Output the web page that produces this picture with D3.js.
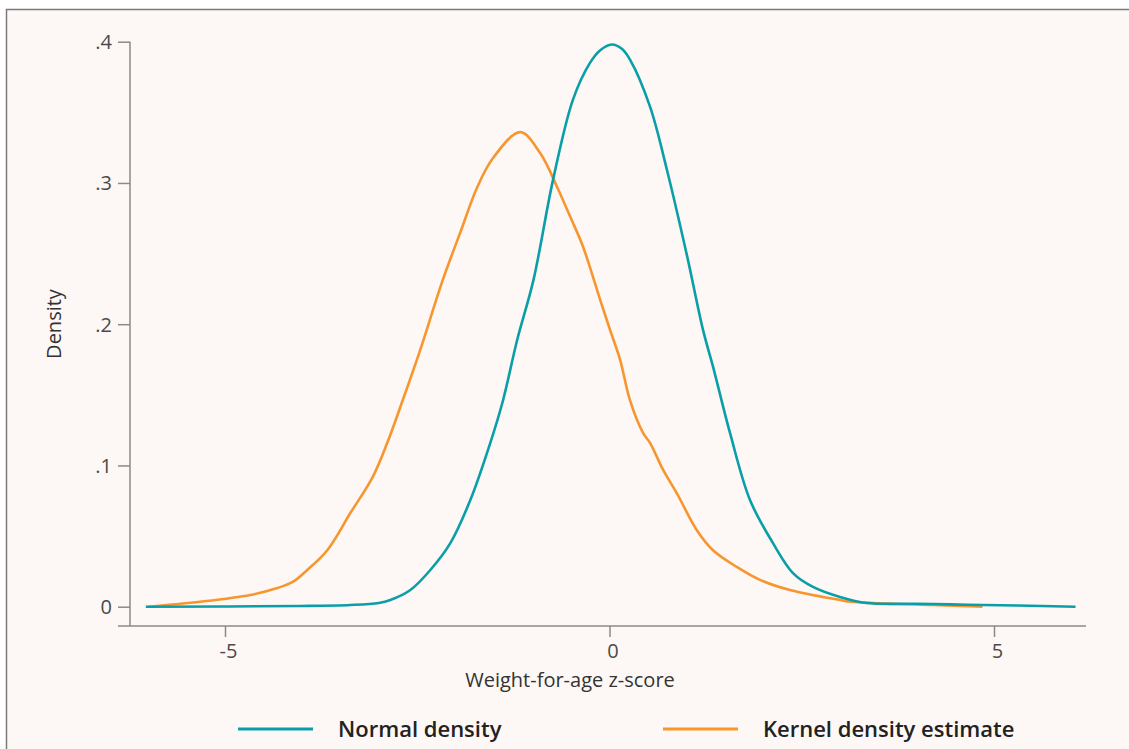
<!DOCTYPE html>
<html>
<head>
<meta charset="utf-8">
<script src="https://cdn.jsdelivr.net/npm/d3@7"></script>
<style>
  html, body { margin: 0; padding: 0; background: #ffffff; }
  svg { display: block; }
  text { font-family: "Open Sans", Lato, sans-serif; }
</style>
</head>
<body>
<svg id="chart" width="1129" height="749"></svg>
<script>
// ---- data ----
const normalX = [-6.03, -4.02, -3.37, -3.0, -2.85, -2.59, -2.33, -2.07, -1.81, -1.55, -1.385, -1.2, -0.99, -0.735, -0.475, -0.254, -0.12, 0.03, 0.16, 0.27, 0.527, 0.748, 1.01, 1.216, 1.346, 1.567, 1.827, 2.126, 2.386, 2.646, 2.997, 3.348, 4.0, 4.65, 5.3, 6.06];
const normalY = [0.0, 0.0005, 0.0012, 0.0026, 0.0047, 0.0118, 0.026, 0.045, 0.0755, 0.116, 0.146, 0.189, 0.231, 0.302, 0.359, 0.385, 0.394, 0.398, 0.395, 0.387, 0.354, 0.309, 0.248, 0.196, 0.170, 0.123, 0.0755, 0.045, 0.0238, 0.014, 0.0069, 0.0026, 0.0021, 0.0014, 0.0008, 0.0];

const kernelX = [-6.0, -5.32, -4.67, -4.32, -4.12, -3.93, -3.67, -3.37, -3.08, -2.89, -2.69, -2.46, -2.17, -1.94, -1.72, -1.51, -1.16, -0.90, -0.68, -0.51, -0.345, -0.12, 0.007, 0.137, 0.267, 0.436, 0.527, 0.696, 0.878, 1.138, 1.346, 1.66, 1.957, 2.347, 3.0, 3.13, 3.6, 4.21, 4.85];
const kernelY = [0.0, 0.0035, 0.0083, 0.0132, 0.0175, 0.026, 0.040, 0.0663, 0.0918, 0.116, 0.146, 0.182, 0.231, 0.265, 0.297, 0.318, 0.336, 0.321, 0.297, 0.276, 0.255, 0.217, 0.196, 0.175, 0.146, 0.123, 0.116, 0.097, 0.080, 0.054, 0.040, 0.028, 0.019, 0.0118, 0.0047, 0.0035, 0.0022, 0.0012, 0.0];

const xTicks = [-5, 0, 5];
const xTickLabels = ["-5", "0", "5"];
const yTicks = [0, 0.1, 0.2, 0.3, 0.4];
const yTickLabels = ["0", ".1", ".2", ".3", ".4"];
const seriesNames = ["Normal density", "Kernel density estimate"];
const seriesColors = ["#0a9ea8", "#f7962f"];

// ---- layout ----
const svg = d3.select("#chart");
const W = 1129, H = 749;

svg.append("rect").attr("x", 0).attr("y", 0).attr("width", W).attr("height", H).attr("fill", "#ffffff");
svg.append("rect")
  .attr("x", 6.5).attr("y", 9.5).attr("width", W + 10).attr("height", H + 10)
  .attr("fill", "#fdf8f5").attr("stroke", "#7a7a7a").attr("stroke-width", 1.5);

const x = d3.scaleLinear().domain([-5, 5]).range([225, 994]);
const y = d3.scaleLinear().domain([0, 0.4]).range([606.7, 41.7]);

const axisX0 = 118, axisX1 = 1086, axisYline = 626, axisXline = 130;
const axisColor = "#8a8a8a";

// axis lines
svg.append("line").attr("x1", axisXline).attr("x2", axisXline)
  .attr("y1", y(0.4)).attr("y2", axisYline)
  .attr("stroke", axisColor).attr("stroke-width", 1.5);
svg.append("line").attr("x1", axisX0).attr("x2", axisX1)
  .attr("y1", axisYline).attr("y2", axisYline)
  .attr("stroke", axisColor).attr("stroke-width", 1.5);

// y axis ticks
const yAxis = d3.axisLeft(y).tickValues(yTicks).tickSize(12).tickSizeOuter(0).tickPadding(6)
  .tickFormat((d, i) => yTickLabels[i]);
const gy = svg.append("g").attr("transform", `translate(${axisXline},0)`).call(yAxis);
gy.select(".domain").remove();
gy.selectAll(".tick line").attr("stroke", axisColor).attr("stroke-width", 1.5);
gy.selectAll(".tick text").attr("fill", "#4a4a4a").attr("font-size", 20).attr("dy", "0.34em");

// x axis ticks
const xAxis = d3.axisBottom(x).tickValues(xTicks).tickSize(11).tickSizeOuter(0).tickPadding(7)
  .tickFormat((d, i) => xTickLabels[i]);
const gx = svg.append("g").attr("transform", `translate(0,${axisYline})`).call(xAxis);
gx.select(".domain").remove();
gx.selectAll(".tick line").attr("stroke", axisColor).attr("stroke-width", 1.5);
gx.selectAll(".tick text").attr("fill", "#4a4a4a").attr("font-size", 20).attr("dx", "3");

// axis titles
svg.append("text").attr("x", 570).attr("y", 687).attr("text-anchor", "middle")
  .attr("font-size", 20).attr("fill", "#333").text("Weight-for-age z-score");
svg.append("text").attr("transform", "translate(61,324) rotate(-90)").attr("text-anchor", "middle")
  .attr("font-size", 20).attr("fill", "#333").text("Density");

// curves
const line = d3.line().x(d => x(d[0])).y(d => y(d[1])).curve(d3.curveCatmullRom.alpha(0.5));
const normalData = normalX.map((v, i) => [v, normalY[i]]);
const kernelData = kernelX.map((v, i) => [v, kernelY[i]]);

svg.append("path").datum(kernelData).attr("d", line)
  .attr("fill", "none").attr("stroke", seriesColors[1]).attr("stroke-width", 2.6).attr("stroke-linejoin", "round");
svg.append("path").datum(normalData).attr("d", line)
  .attr("fill", "none").attr("stroke", seriesColors[0]).attr("stroke-width", 2.6).attr("stroke-linejoin", "round");

// legend
const legendX = [238, 663];
seriesNames.forEach((name, i) => {
  svg.append("line").attr("x1", legendX[i]).attr("x2", legendX[i] + 75)
    .attr("y1", 729).attr("y2", 729)
    .attr("stroke", seriesColors[i]).attr("stroke-width", 3);
  svg.append("text").attr("x", legendX[i] + 100).attr("y", 737)
    .attr("font-size", 22).attr("font-weight", 600).attr("fill", "#222").text(name);
});
</script>
</body>
</html>
